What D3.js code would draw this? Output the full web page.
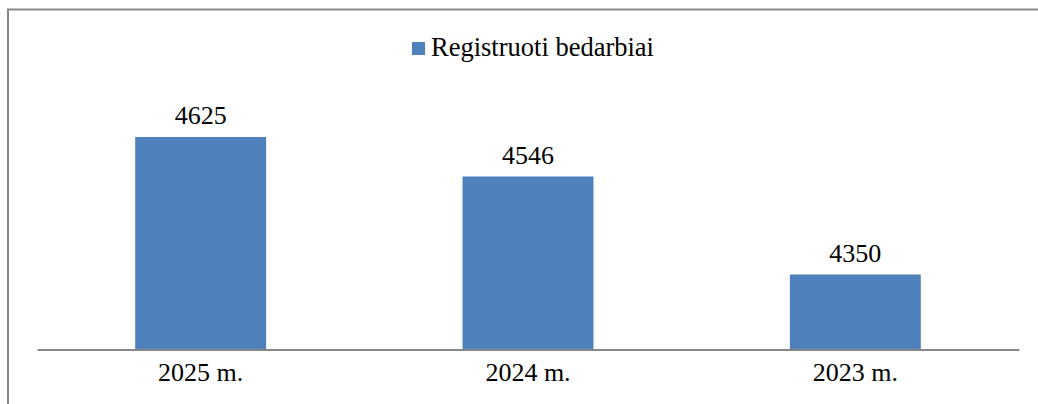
<!DOCTYPE html>
<html>
<head>
<meta charset="utf-8">
<script src="https://cdn.jsdelivr.net/npm/d3@7"></script>
<style>
  body { margin: 0; background: #fff; }
  svg { display: block; }
</style>
</head>
<body>
<div id="chart"></div>
<script>
const FRAME_WIDTH = 1038;
const FRAME_HEIGHT = 404;
const MARGINS = {left: 37, right: 19, top: 99.5, bottom: 54.5};

// data
const categories = ["2025 m.", "2024 m.", "2023 m."];
const values = [4625, 4546, 4350];
const seriesName = "Registruoti bedarbiai";
const yDomain = [4200, 4700];

const BAR_COLOR = "#4F81BD";
const FONT = "'Liberation Serif', 'Times New Roman', serif";

const VIS_WIDTH = FRAME_WIDTH - MARGINS.left - MARGINS.right;
const VIS_HEIGHT = FRAME_HEIGHT - MARGINS.top - MARGINS.bottom;

const FRAME = d3.select("#chart")
  .append("svg")
    .attr("width", FRAME_WIDTH)
    .attr("height", FRAME_HEIGHT);

// outer border (chart area continues past the window)
FRAME.append("rect")
  .attr("x", 8)
  .attr("y", 9.5)
  .attr("width", FRAME_WIDTH + 20)
  .attr("height", FRAME_HEIGHT + 20)
  .attr("fill", "none")
  .attr("stroke", "#878787")
  .attr("stroke-width", 2);

// scales
const X_SCALE = d3.scaleBand()
  .domain(categories)
  .range([0, VIS_WIDTH])
  .paddingInner(0.6)
  .paddingOuter(0.3);

const Y_SCALE = d3.scaleLinear()
  .domain(yDomain)
  .range([VIS_HEIGHT, 0]);

const g = FRAME.append("g")
  .attr("transform", "translate(" + MARGINS.left + "," + MARGINS.top + ")");

// bars
g.selectAll(".bar")
  .data(values)
  .enter()
  .append("rect")
    .attr("class", "bar")
    .attr("x", (d, i) => X_SCALE(categories[i]))
    .attr("y", (d) => Y_SCALE(d))
    .attr("width", X_SCALE.bandwidth())
    .attr("height", (d) => VIS_HEIGHT - Y_SCALE(d))
    .attr("fill", BAR_COLOR);

// value labels
g.selectAll(".val")
  .data(values)
  .enter()
  .append("text")
    .attr("class", "val")
    .attr("x", (d, i) => X_SCALE(categories[i]) + X_SCALE.bandwidth() / 2)
    .attr("y", (d) => Y_SCALE(d) - 13)
    .attr("text-anchor", "middle")
    .attr("font-family", FONT)
    .attr("font-size", "26px")
    .attr("fill", "#000")
    .text((d) => d);

// x axis
const xAxis = g.append("g")
  .attr("transform", "translate(0," + VIS_HEIGHT + ")")
  .call(d3.axisBottom(X_SCALE).tickSize(0).tickPadding(13));

xAxis.select(".domain")
  .attr("stroke", "#878787")
  .attr("stroke-width", 2);

xAxis.selectAll("text")
  .attr("font-family", FONT)
  .attr("font-size", "26px")
  .attr("fill", "#000");

// legend
const legend = FRAME.append("g")
  .attr("transform", "translate(412,42)");

legend.append("rect")
  .attr("width", 13)
  .attr("height", 13)
  .attr("fill", BAR_COLOR);

legend.append("text")
  .attr("x", 19)
  .attr("y", 14)
  .attr("font-family", FONT)
  .attr("font-size", "26.5px")
  .attr("fill", "#000")
  .text(seriesName);
</script>
</body>
</html>
